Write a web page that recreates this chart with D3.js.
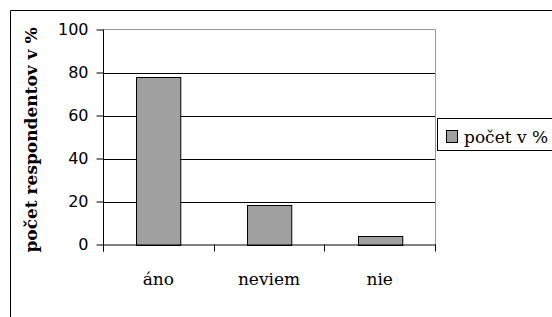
<!DOCTYPE html>
<html><head><meta charset="utf-8">
<script src="https://cdn.jsdelivr.net/npm/d3@7"></script>
<style>body{margin:0;background:#fff}svg{display:block}</style>
</head><body>
<script>
const categories = ["áno", "neviem", "nie"];
const values = [78, 18.5, 4];
const yTicks = [0, 20, 40, 60, 80, 100];
const seriesName = "počet v %";
const yTitle = "počet respondentov v %";

(function(){
const SERIF = "'DejaVu Serif', serif";
const SANS = "'DejaVu Sans', sans-serif";
const W = 552, H = 317;
const svg = d3.select("body").append("svg").attr("width", W).attr("height", H);

// outer frame
svg.append("path").attr("d", `M10.5,${H} V10.5 H${W}`).attr("fill","none").attr("stroke","#000").attr("stroke-width",1);

const pL = 103, pR = 435, pT = 29.5, pB = 244.5;
const x = d3.scaleBand().domain(categories).range([pL, pR]).paddingInner(0.6).paddingOuter(0.3);
const xb = d3.scaleBand().domain(categories).range([pL, pR]);
const y = d3.scaleLinear().domain([0, 100]).range([pB, pT]);

// plot area border (gray)
svg.append("path").attr("d", `M${pL},${pT} H${pR+0.5} V${pB}`).attr("fill","none").attr("stroke","#999");

// gridlines
svg.append("g").selectAll("line").data(yTicks.filter(d => d > 0 && d < 100)).join("line")
  .attr("x1", pL).attr("x2", pR).attr("y1", d => Math.round(y(d))+0.5).attr("y2", d => Math.round(y(d))+0.5)
  .attr("stroke","#000");

// bars
svg.append("g").selectAll("rect").data(values).join("rect")
  .attr("x", (d,i) => Math.round(x(categories[i]))+0.5)
  .attr("y", d => Math.round(y(d))+0.5)
  .attr("width", x.bandwidth())
  .attr("height", d => Math.round(y(0)) - Math.round(y(d)))
  .attr("fill","#a0a0a0").attr("stroke","#000");

// y axis
const yAxis = d3.axisLeft(y).tickValues(yTicks).tickSize(7).tickPadding(8).tickFormat(d3.format("d"));
const gy = svg.append("g").attr("transform", `translate(${pL+0.5},0)`).call(yAxis);
gy.attr("font-family", SANS).attr("font-size", 16);
gy.select(".domain").attr("stroke","#000").attr("d", `M0,${pT}V${pB+7}`);
gy.selectAll(".tick line").attr("stroke","#000");
gy.selectAll("text").attr("fill","#000");

// x axis
const gx = svg.append("g").attr("transform", `translate(0,${pB})`);
gx.append("line").attr("x1", pL).attr("x2", pR+0.5).attr("y1",0.5).attr("y2",0.5).attr("stroke","#000");
const xt = [pL, ...categories.map(c => xb(c)+xb.bandwidth())];
gx.selectAll("line.t").data(xt).join("line").attr("class","t")
  .attr("x1", d => Math.round(d)+0.5).attr("x2", d => Math.round(d)+0.5).attr("y1",0).attr("y2",7).attr("stroke","#000");
gx.selectAll("text").data(categories).join("text")
  .attr("font-family", SERIF)
  .attr("x", d => xb(d) + xb.bandwidth()/2).attr("y", 40)
  .attr("text-anchor","middle")
  .attr("font-size","17px").text(d => d);

// y title
svg.append("text").attr("font-family", SERIF).attr("transform", `translate(37,140) rotate(-90)`)
  .attr("text-anchor","middle")
  .attr("font-weight","bold").attr("font-size","17px").text(yTitle);

// legend
const lg = svg.append("g");
lg.append("rect").attr("x",437.5).attr("y",118.5).attr("width",130).attr("height",32).attr("fill","#fff").attr("stroke","#000");
lg.append("rect").attr("x",446.5).attr("y",130.5).attr("width",11).attr("height",12).attr("fill","#a0a0a0").attr("stroke","#000");
lg.append("text").attr("font-family", SERIF).attr("x",464).attr("y",143)
  .attr("font-size","17px").text(seriesName);
})();
</script>
</body></html>
